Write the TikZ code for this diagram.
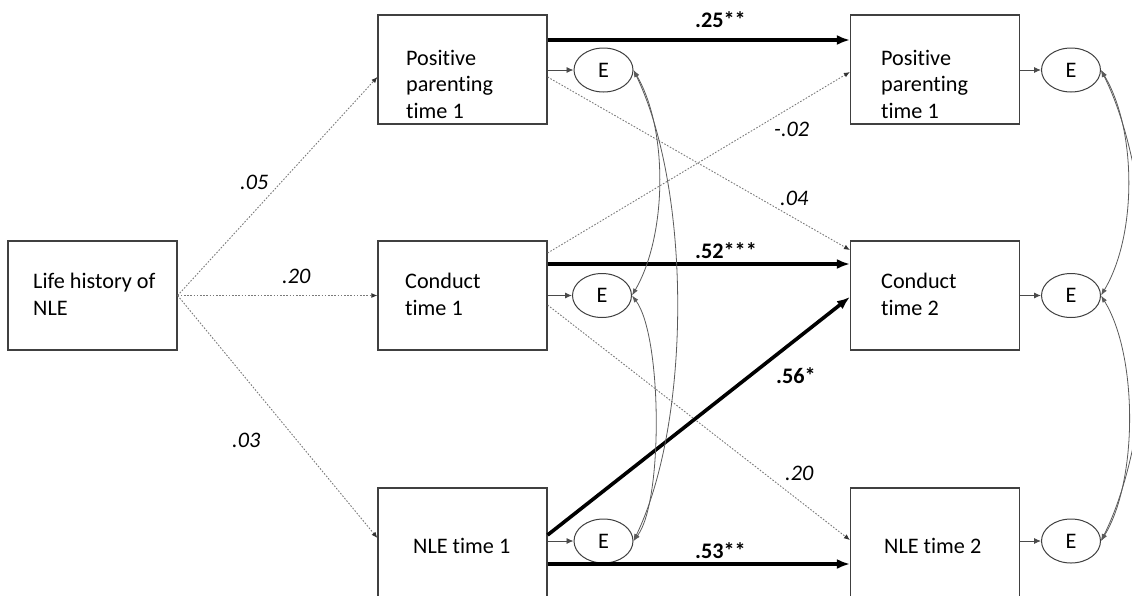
\documentclass[tikz,border=0pt]{standalone}
\usepackage{fontspec}
\setmainfont{Carlito}[Ligatures=NoCommon]
\usetikzlibrary{arrows.meta,shapes.geometric}

\definecolor{boxline}{HTML}{404040}
\definecolor{thinline}{HTML}{4A4A4A}
\definecolor{covline}{HTML}{5A5A5A}
\definecolor{dotline}{HTML}{7A7A7A}

\newcommand{\diagfont}{\fontsize{22.2}{26.5}\selectfont}

\begin{document}
\begin{tikzpicture}[x=1pt,y=-1pt,
  box/.style={draw=boxline, fill=white, line width=1.2pt,
    minimum width=169pt, minimum height=109pt, inner sep=0pt},
  err/.style={draw=boxline, fill=white, line width=1pt, ellipse,
    minimum width=59pt, minimum height=44pt, inner sep=0pt, font=\diagfont},
  txt/.style={align=left, inner sep=0pt, anchor=base west, font=\diagfont},
  coef/.style={inner sep=0pt, anchor=base west, font=\diagfont\itshape},
  sig/.style={inner sep=0pt, anchor=base west, font=\diagfont\bfseries},
  strong/.style={draw=black, line width=3.6pt, -{Latex[length=13pt,width=10pt]}},
  weak/.style={draw=dotline, line width=0.9pt, dash pattern=on 1.6pt off 1.6pt,
    -{Latex[length=6pt,width=5pt,color=black!80]}},
  resid/.style={draw=thinline, line width=0.9pt, -{Latex[length=7pt,width=6pt]}},
  cov/.style={draw=covline, line width=0.8pt,
    {Latex[length=7pt,width=5pt]}-{Latex[length=7pt,width=5pt]}}
]
\useasboundingbox (0,0) rectangle (1132,595);
\clip (0,0) rectangle (1132,595);

% observed variables
\node[box] (lh)  at (92.5,295.5) {};
\node[box] (pp1) at (462.5,69.5) {};
\node[box] (c1)  at (462.5,295.5) {};
\node[box] (n1)  at (462.5,542.5) {};
\node[box] (pp2) at (935,69.5) {};
\node[box] (c2)  at (935,295.5) {};
\node[box] (n2)  at (935,542.5) {};

% box captions (anchored at the baseline of the last line)
\node[txt] (lh-t)  at (33,315)  {Life history of\\NLE};
\node[txt] (pp1-t) at (406,118) {Positive\\parenting\\time 1};
\node[txt] (c1-t)  at (405,315) {Conduct\\time 1};
\node[txt] (n1-t)  at (413,553) {NLE time 1};
\node[txt] (pp2-t) at (881,118) {Positive\\parenting\\time 1};
\node[txt] (c2-t)  at (881,315) {Conduct\\time 2};
\node[txt] (n2-t)  at (884,553) {NLE time 2};

% residual terms
\node[err] (e1) at (603.5,70)  {E};
\node[err] (e2) at (602,295.5) {E};
\node[err] (e3) at (603.5,541) {E};
\node[err] (f1) at (1071,70)   {E};
\node[err] (f2) at (1071,295.5){E};
\node[err] (f3) at (1071,541)  {E};

% paths from life history of NLE
\draw[weak] (lh.east) -- ([yshift=-7.5pt]pp1.west);
\draw[weak] (lh.east) -- (c1.west);
\draw[weak] (lh.east) -- ([yshift=4.5pt]n1.west);

% cross-lagged paths
\draw[weak] ([yshift=-7.5pt]pp1.east) -- ([yshift=45.5pt]c2.west);
\draw[weak] ([yshift=42.5pt]c1.east) -- ([yshift=-2.5pt]pp2.west);
\draw[weak] ([yshift=-9.5pt]c1.east) -- ([yshift=2.5pt]n2.west);

% significant paths
\draw[strong] ([yshift=29.5pt]pp1.east) -- ([yshift=29.5pt]pp2.west);
\draw[strong] ([yshift=31.5pt]c1.east) -- ([yshift=31.5pt]c2.west);
\draw[strong] ([yshift=7.5pt]n1.east) -- ([yshift=-1.5pt]c2.west);
\draw[strong] ([yshift=-21.5pt]n1.east) -- ([yshift=-21.5pt]n2.west);

% residual arrows
\draw[resid] (pp1.east |- e1.west) -- (e1.west);
\draw[resid] (c1.east |- e2.west) -- (e2.west);
\draw[resid] (n1.east |- e3.west) -- (e3.west);
\draw[resid] (pp2.east |- f1.west) -- (f1.west);
\draw[resid] (c2.east |- f2.west) -- (f2.west);
\draw[resid] (n2.east |- f3.west) -- (f3.west);

% residual covariances, time 1
\draw[cov] (e1.east) .. controls +(35,60) and +(35,-60) .. (e2.east);
\draw[cov] (e1.east) .. controls +(58,120) and +(58,-120) .. (e3.east);
\draw[cov] (e2.east) .. controls +(30,40) and +(30,-40) .. (e3.east);

% residual covariances, time 2
\draw[cov] (f1.east) .. controls +(36,60) and +(36,-60) .. (f2.east);
\draw[cov] (f1.east) .. controls +(60,120) and +(60,-120) .. (f3.east);
\draw[cov] (f2.east) .. controls +(37,60) and +(37,-60) .. (f3.east);

% path coefficients
\node[coef] (k-pp) at (240,189) {.05};
\node[coef] (k-c)  at (282,283) {.20};
\node[coef] (k-n)  at (232,447) {.03};
\node[coef] (k-pc) at (780,205) {.04};
\node[coef] (k-cp) at (774,136) {-.02};
\node[coef] (k-cn) at (785,480) {.20};
\node[sig]  (s-pp) at (695,27)  {.25**};
\node[sig]  (s-cc) at (695,258) {.52***};
\node[sig]  (s-nc) at (776,383) {.56*};
\node[sig]  (s-nn) at (695,558) {.53**};
\end{tikzpicture}
\end{document}
